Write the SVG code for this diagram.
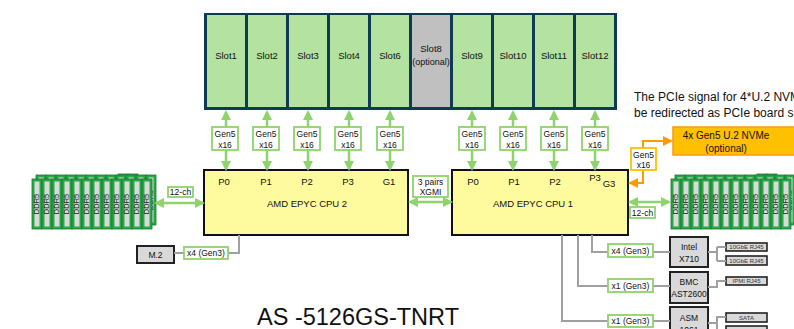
<svg xmlns="http://www.w3.org/2000/svg" xmlns:xlink="http://www.w3.org/1999/xlink" width="794" height="329" viewBox="0 0 794 329">
<style>
text{font-family:"Liberation Sans",Arial,sans-serif;fill:#111}
.slot{fill:#b4e3a1}
.sl{font-size:9.5px;text-anchor:middle}
.cpu{fill:#fdfb9d;stroke:#111;stroke-width:2}
.cl{font-size:9.5px;text-anchor:middle}
.g{stroke:#8ed36c;stroke-width:2.5;fill:none}
.lb{fill:#fff;stroke:#8ed36c;stroke-width:1.8}
.lt{font-size:8.5px;text-anchor:middle}
.nv{font-size:10px;text-anchor:middle}
.o{stroke:#ff9a00;stroke-width:2;fill:none}
.gr{stroke:#a0a0a0;stroke-width:2;fill:none}
.chip{fill:#d9d9d9;stroke:#222;stroke-width:2}
.sm{fill:#d9d9d9;stroke:#222;stroke-width:1.6}
.st{font-size:6px;text-anchor:middle;fill:#333}
</style>
<defs>
<marker id="ag" markerWidth="10" markerHeight="10" refX="8" refY="5" orient="auto-start-reverse" markerUnits="userSpaceOnUse"><path d="M0,0 L10,5 L0,10 z" fill="#8ed36c"/></marker>
<marker id="ao" markerWidth="10" markerHeight="10" refX="8" refY="5" orient="auto-start-reverse" markerUnits="userSpaceOnUse"><path d="M0,0 L10,5 L0,10 z" fill="#ff9a00"/></marker>
<g id="dimm"><rect x="0" y="0" width="10" height="50" fill="#29a847" stroke="#1b7a33" stroke-width="0.8"/><rect x="2.5" y="2.5" width="5" height="45" fill="#d9d9d9"/><text transform="translate(7.4,25) rotate(-90)" text-anchor="middle" font-size="7.5">DDR5</text></g>
<g id="dlayer">
<use xlink:href="#dimm" x="0"/><use xlink:href="#dimm" x="10"/><use xlink:href="#dimm" x="20"/><use xlink:href="#dimm" x="30"/><use xlink:href="#dimm" x="40"/><use xlink:href="#dimm" x="50"/><use xlink:href="#dimm" x="60"/><use xlink:href="#dimm" x="70"/><use xlink:href="#dimm" x="80"/><use xlink:href="#dimm" x="90"/><use xlink:href="#dimm" x="100"/><use xlink:href="#dimm" x="110"/>
</g>
<g id="bank"><use xlink:href="#dimm" x="86" y="-5"/><use xlink:href="#dimm" x="96" y="-5"/><use xlink:href="#dlayer" x="4" y="-4"/><use xlink:href="#dlayer"/></g>
</defs>
<rect width="794" height="329" fill="#fff"/>

<g id="slots">
<rect x="204" y="13" width="413" height="97" fill="#0e3a52"/>
<g id="slot1"><rect class="slot" x="207" y="15" width="38" height="92"/><text class="sl" x="226" y="59">Slot1</text></g>
<g id="slot2"><rect class="slot" x="248" y="15" width="38" height="92"/><text class="sl" x="267" y="59">Slot2</text></g>
<g id="slot3"><rect class="slot" x="289" y="15" width="38" height="92"/><text class="sl" x="308" y="59">Slot3</text></g>
<g id="slot4"><rect class="slot" x="330" y="15" width="38" height="92"/><text class="sl" x="349" y="59">Slot4</text></g>
<g id="slot6"><rect class="slot" x="371" y="15" width="38" height="92"/><text class="sl" x="390" y="59">Slot6</text></g>
<g id="slot8"><rect x="412" y="15" width="38" height="92" fill="#c0c0c0"/><text class="sl" x="431" y="52">Slot8</text><text class="sl" x="431" y="65" style="font-size:9px">(optional)</text></g>
<g id="slot9"><rect class="slot" x="453" y="15" width="38" height="92"/><text class="sl" x="472" y="59">Slot9</text></g>
<g id="slot10"><rect class="slot" x="494" y="15" width="38" height="92"/><text class="sl" x="513" y="59">Slot10</text></g>
<g id="slot11"><rect class="slot" x="535" y="15" width="38" height="92"/><text class="sl" x="554" y="59">Slot11</text></g>
<g id="slot12"><rect class="slot" x="576" y="15" width="38" height="92"/><text class="sl" x="595" y="59">Slot12</text></g>
</g>

<g id="note">
<text x="634" y="101" font-size="12">The PCIe signal for 4*U.2 NVMe</text>
<text x="634" y="117" font-size="12">be redirected as PCIe board slot</text>
</g>

<g id="cpu2"><rect class="cpu" x="204" y="170" width="204" height="65"/>
<text class="cl" x="224" y="185">P0</text><text class="cl" x="266" y="185">P1</text><text class="cl" x="307" y="185">P2</text><text class="cl" x="348" y="185">P3</text><text class="cl" x="389" y="185">G1</text>
<text class="cl" x="307" y="207">AMD EPYC CPU 2</text></g>

<g id="cpu1"><rect class="cpu" x="452" y="170" width="176" height="65"/>
<text class="cl" x="473" y="185">P0</text><text class="cl" x="514" y="185">P1</text><text class="cl" x="555" y="185">P2</text><text class="cl" x="595" y="181">P3</text><text class="cl" x="609" y="187">G3</text>
<text class="cl" x="533" y="207">AMD EPYC CPU 1</text></g>

<g id="dimm-left"><use xlink:href="#bank" x="32" y="179"/></g>
<g id="dimm-right"><use xlink:href="#bank" x="671" y="179"/></g>

<g id="nvme"><rect x="673" y="127" width="122" height="28" fill="#ffc000" stroke="#f39c12" stroke-width="1.5"/>
<text class="nv" x="726" y="139">4x Gen5 U.2 NVMe</text><text class="nv" x="726" y="152">(optional)</text></g>

<g id="m2"><rect class="chip" x="137" y="246" width="37" height="17"/><text class="lt" x="155.5" y="258">M.2</text></g>

<g id="intel"><rect class="chip" x="670" y="237" width="38" height="30"/><text class="lt" x="689" y="250">Intel</text><text class="lt" x="689" y="262">X710</text></g>
<g id="bmc"><rect class="chip" x="670" y="272" width="38" height="31"/><text class="lt" x="689" y="285">BMC</text><text class="lt" x="689" y="297">AST2600</text></g>
<g id="asm"><rect class="chip" x="670" y="307" width="38" height="30"/><text class="lt" x="689" y="321">ASM</text><text class="lt" x="689" y="333">1061</text></g>
<g id="rj1"><rect class="sm" x="726" y="243" width="41" height="8"/><text class="st" x="746.5" y="249.3">10GbE RJ45</text></g>
<g id="rj2"><rect class="sm" x="726" y="256" width="41" height="9"/><text class="st" x="746.5" y="262.8">10GbE RJ45</text></g>
<g id="ipmi"><rect class="sm" x="726" y="277" width="41" height="8"/><text class="st" x="746.5" y="283.3">IPMI RJ45</text></g>
<g id="sata"><rect class="sm" x="726" y="313" width="41" height="9"/><text class="st" x="746.5" y="319.8">SATA</text></g>
<g id="sata2"><rect class="sm" x="726" y="326" width="41" height="9"/></g>

<g id="connectors">
<line class="g" x1="226" y1="112" x2="226" y2="169" marker-start="url(#ag)" marker-end="url(#ag)"/>
<line class="g" x1="267" y1="112" x2="267" y2="169" marker-start="url(#ag)" marker-end="url(#ag)"/>
<line class="g" x1="308" y1="112" x2="308" y2="169" marker-start="url(#ag)" marker-end="url(#ag)"/>
<line class="g" x1="349" y1="112" x2="349" y2="169" marker-start="url(#ag)" marker-end="url(#ag)"/>
<line class="g" x1="390" y1="112" x2="390" y2="169" marker-start="url(#ag)" marker-end="url(#ag)"/>
<line class="g" x1="472" y1="112" x2="472" y2="169" marker-start="url(#ag)" marker-end="url(#ag)"/>
<line class="g" x1="513" y1="112" x2="513" y2="169" marker-start="url(#ag)" marker-end="url(#ag)"/>
<line class="g" x1="554" y1="112" x2="554" y2="169" marker-start="url(#ag)" marker-end="url(#ag)"/>
<line class="g" x1="595" y1="112" x2="595" y2="169" marker-start="url(#ag)" marker-end="url(#ag)"/>
<line class="g" x1="410" y1="202" x2="451" y2="202" marker-start="url(#ag)" marker-end="url(#ag)"/>
<line class="g" x1="156" y1="203" x2="203" y2="203" marker-start="url(#ag)" marker-end="url(#ag)"/>
<line class="g" x1="630" y1="202" x2="669" y2="202" marker-start="url(#ag)" marker-end="url(#ag)"/>
<path class="o" d="M643,148 V141 H671" marker-end="url(#ao)"/>
<path class="o" d="M643,170 V183 H630" marker-end="url(#ao)"/>
<path class="gr" d="M239,235 V253 H174"/>
<path class="gr" d="M592,235 V252 H670"/>
<path class="gr" d="M578,235 V286 H670"/>
<path class="gr" d="M562,235 V321 H670"/>
<path class="gr" d="M708,252 H717 M717,247 V261 M717,247 H726 M717,261 H726"/>
<path class="gr" d="M708,287 H717 V281 H726"/>
<path class="gr" d="M708,323 H717 V317 H726 M717,323 V330 H726"/>
<g id="labels">
<rect class="lb" x="212" y="127" width="26" height="23"/><text class="lt" x="225" y="137">Gen5</text><text class="lt" x="225" y="148">x16</text>
<rect class="lb" x="253" y="127" width="26" height="23"/><text class="lt" x="266" y="137">Gen5</text><text class="lt" x="266" y="148">x16</text>
<rect class="lb" x="294" y="127" width="26" height="23"/><text class="lt" x="307" y="137">Gen5</text><text class="lt" x="307" y="148">x16</text>
<rect class="lb" x="335" y="127" width="26" height="23"/><text class="lt" x="348" y="137">Gen5</text><text class="lt" x="348" y="148">x16</text>
<rect class="lb" x="377" y="127" width="26" height="23"/><text class="lt" x="390" y="137">Gen5</text><text class="lt" x="390" y="148">x16</text>
<rect class="lb" x="459" y="127" width="26" height="23"/><text class="lt" x="472" y="137">Gen5</text><text class="lt" x="472" y="148">x16</text>
<rect class="lb" x="500" y="127" width="26" height="23"/><text class="lt" x="513" y="137">Gen5</text><text class="lt" x="513" y="148">x16</text>
<rect class="lb" x="541" y="127" width="26" height="23"/><text class="lt" x="554" y="137">Gen5</text><text class="lt" x="554" y="148">x16</text>
<rect class="lb" x="582" y="127" width="26" height="23"/><text class="lt" x="595" y="137">Gen5</text><text class="lt" x="595" y="148">x16</text>
<rect x="631" y="148" width="25" height="22" fill="#fff" stroke="#ffc000" stroke-width="1.8"/><text class="lt" x="643.5" y="158">Gen5</text><text class="lt" x="643.5" y="168">x16</text>
<rect class="lb" x="413" y="176" width="35" height="21"/><text class="lt" x="430.5" y="185">3 pairs</text><text class="lt" x="430.5" y="195">XGMI</text>
<rect class="lb" x="168" y="187" width="25" height="10"/><text class="lt" x="180.5" y="195">12-ch</text>
<rect class="lb" x="630" y="207" width="25" height="11"/><text class="lt" x="642.5" y="215.5">12-ch</text>
<rect class="lb" x="184" y="247" width="44" height="12"/><text class="lt" x="206" y="256">x4 (Gen3)</text>
<rect class="lb" x="608" y="244" width="45" height="13"/><text class="lt" x="630.5" y="253.5">x4 (Gen3)</text>
<rect class="lb" x="608" y="279" width="45" height="13"/><text class="lt" x="630.5" y="288.5">x1 (Gen3)</text>
<rect class="lb" x="608" y="315" width="45" height="12"/><text class="lt" x="630.5" y="324">x1 (Gen3)</text>
</g>
</g>

<text x="358" y="325" font-size="23.5" text-anchor="middle" fill="#222">AS -5126GS-TNRT</text>
</svg>
